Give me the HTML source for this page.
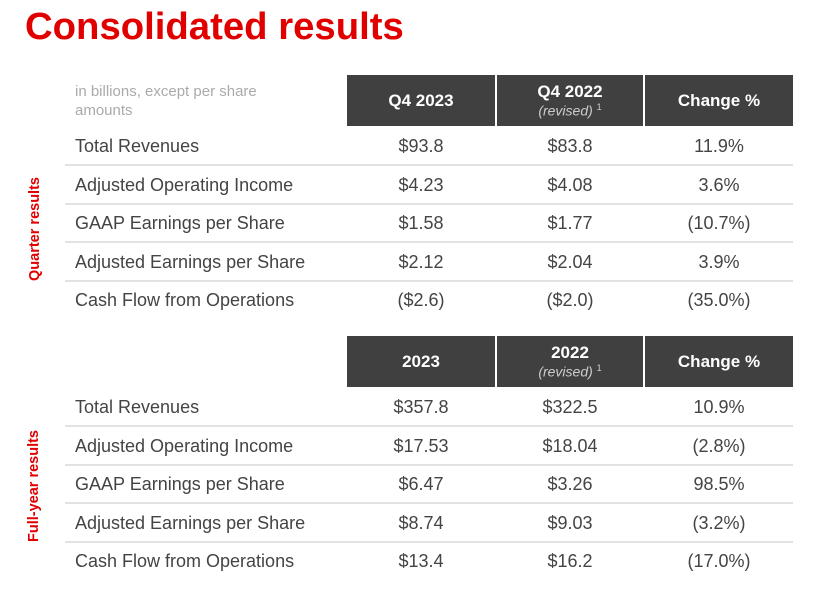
<!DOCTYPE html>
<html><head><style>
body{margin:0;width:831px;height:591px;background:#fff;position:relative;overflow:hidden;font-family:"Liberation Sans",sans-serif;}
.t{position:absolute;left:25px;top:5px;font-size:38.3px;font-weight:bold;color:#e00000;letter-spacing:0px;}
.h{position:absolute;background:#404040;color:#fff;font-weight:bold;font-size:17px;text-align:center;display:flex;flex-direction:column;justify-content:center;align-items:center;height:51px;}
.h i{font-weight:normal;font-size:14px;color:#ccc;}
.h sup{font-size:9px;font-style:normal;}
.r{position:absolute;left:65px;width:728px;height:38.7px;font-size:18px;color:#444;}
.r span{position:absolute;top:0;line-height:38px;}
.c{text-align:center;width:148px;}
.l{position:absolute;left:65px;width:728px;height:2px;background:#e2e2e2;}
.v{position:absolute;color:#e00000;font-weight:bold;font-size:14.5px;transform:rotate(-90deg);transform-origin:center;white-space:nowrap;}
.n{position:absolute;left:75px;top:82px;font-size:15px;color:#aaa;line-height:19px;}
</style></head><body>
<div class="t">Consolidated results</div>
<div class="n">in billions, except per share<br>amounts</div>
<div class="h" style="left:347px;top:75px;width:148px">Q4 2023</div>
<div class="h" style="left:497px;top:75px;width:146px">Q4 2022<i>(revised) <sup>1</sup></i></div>
<div class="h" style="left:645px;top:75px;width:148px">Change %</div>
<div class="h" style="left:347px;top:336px;width:148px">2023</div>
<div class="h" style="left:497px;top:336px;width:146px">2022<i>(revised) <sup>1</sup></i></div>
<div class="h" style="left:645px;top:336px;width:148px">Change %</div>
<div class="v" style="left:-25px;top:221px;width:120px;text-align:center">Quarter results</div>
<div class="v" style="left:-31px;top:478px;width:130px;text-align:center">Full-year results</div>

<div class="r" style="top:127px"><span style="left:10px">Total Revenues</span><span class="c" style="left:282px">$93.8</span><span class="c" style="left:431px">$83.8</span><span class="c" style="left:580px">11.9%</span></div>
<div class="l" style="top:164px"></div>
<div class="r" style="top:166px"><span style="left:10px">Adjusted Operating Income</span><span class="c" style="left:282px">$4.23</span><span class="c" style="left:431px">$4.08</span><span class="c" style="left:580px">3.6%</span></div>
<div class="l" style="top:203px"></div>
<div class="r" style="top:204px"><span style="left:10px">GAAP Earnings per Share</span><span class="c" style="left:282px">$1.58</span><span class="c" style="left:431px">$1.77</span><span class="c" style="left:580px">(10.7%)</span></div>
<div class="l" style="top:241px"></div>
<div class="r" style="top:243px"><span style="left:10px">Adjusted Earnings per Share</span><span class="c" style="left:282px">$2.12</span><span class="c" style="left:431px">$2.04</span><span class="c" style="left:580px">3.9%</span></div>
<div class="l" style="top:280px"></div>
<div class="r" style="top:281px"><span style="left:10px">Cash Flow from Operations</span><span class="c" style="left:282px">($2.6)</span><span class="c" style="left:431px">($2.0)</span><span class="c" style="left:580px">(35.0%)</span></div>

<div class="r" style="top:388px"><span style="left:10px">Total Revenues</span><span class="c" style="left:282px">$357.8</span><span class="c" style="left:431px">$322.5</span><span class="c" style="left:580px">10.9%</span></div>
<div class="l" style="top:425px"></div>
<div class="r" style="top:427px"><span style="left:10px">Adjusted Operating Income</span><span class="c" style="left:282px">$17.53</span><span class="c" style="left:431px">$18.04</span><span class="c" style="left:580px">(2.8%)</span></div>
<div class="l" style="top:464px"></div>
<div class="r" style="top:465px"><span style="left:10px">GAAP Earnings per Share</span><span class="c" style="left:282px">$6.47</span><span class="c" style="left:431px">$3.26</span><span class="c" style="left:580px">98.5%</span></div>
<div class="l" style="top:502px"></div>
<div class="r" style="top:504px"><span style="left:10px">Adjusted Earnings per Share</span><span class="c" style="left:282px">$8.74</span><span class="c" style="left:431px">$9.03</span><span class="c" style="left:580px">(3.2%)</span></div>
<div class="l" style="top:541px"></div>
<div class="r" style="top:542px"><span style="left:10px">Cash Flow from Operations</span><span class="c" style="left:282px">$13.4</span><span class="c" style="left:431px">$16.2</span><span class="c" style="left:580px">(17.0%)</span></div>
</body></html>
